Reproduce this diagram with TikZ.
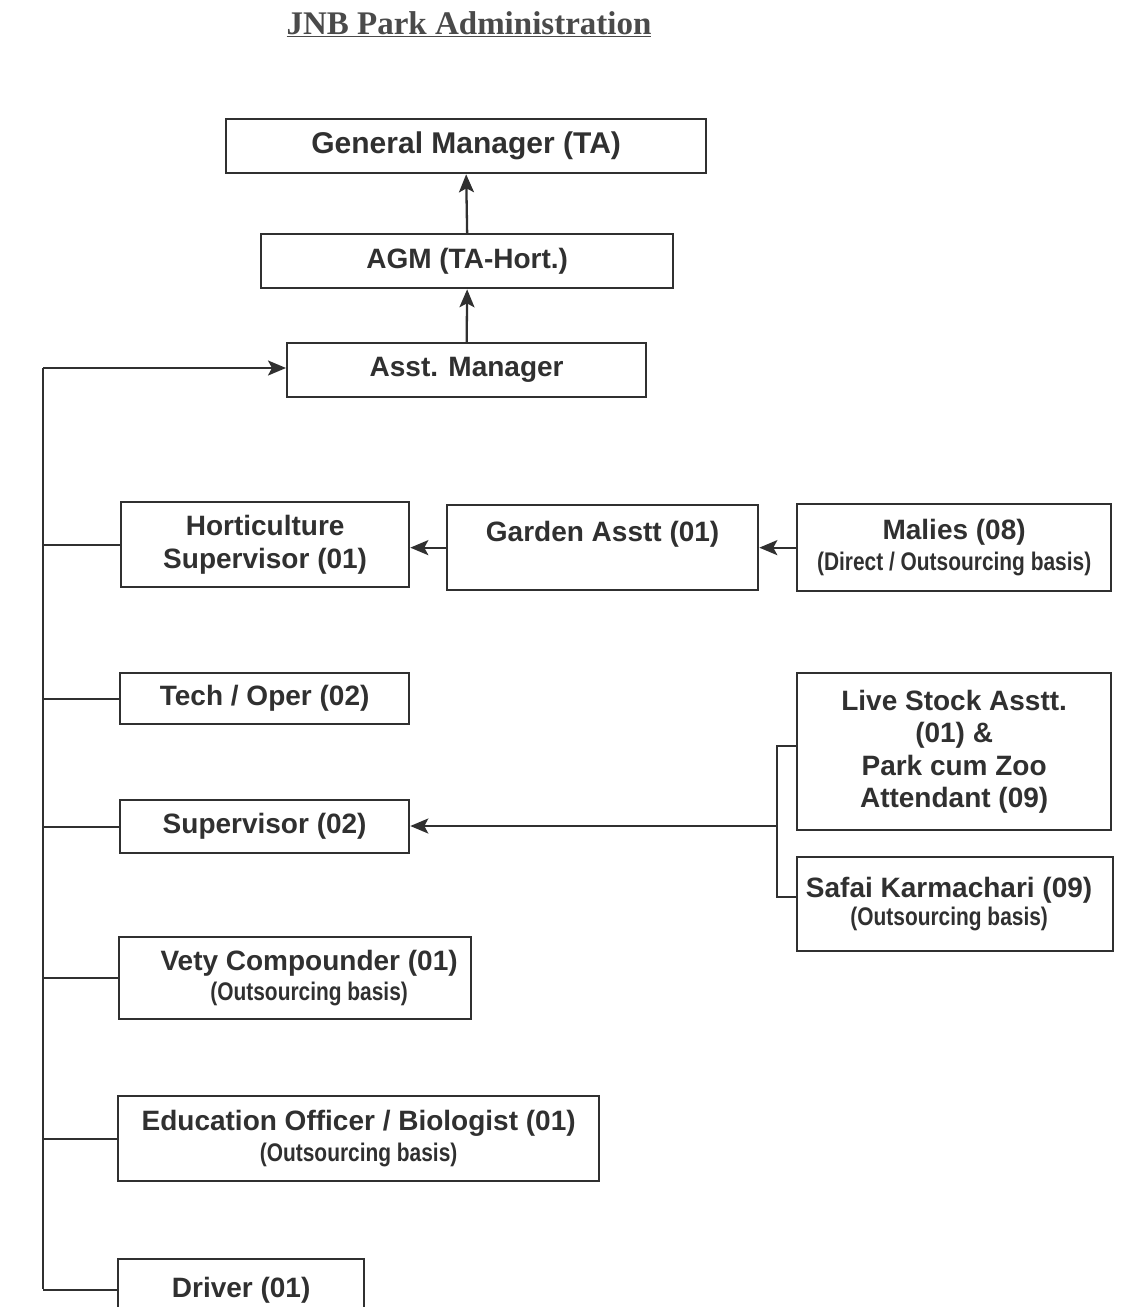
\documentclass[tikz,border=0pt]{standalone}
\usepackage{fontspec}
\setmainfont{Liberation Serif}
\newfontfamily\arialf{Liberation Sans}
\newfontfamily\narrowf[FakeStretch=0.82]{Liberation Sans}
\usetikzlibrary{arrows.meta}
\definecolor{ink}{HTML}{303030}
\definecolor{titleink}{HTML}{4A4A4A}
\begin{document}
\begin{tikzpicture}[x=1pt,y=-1pt,
  box/.style={draw=ink, line width=2.3pt, rectangle, inner sep=0pt, anchor=north west,
    align=center, text=ink, font=\arialf\bfseries\fontsize{28}{32.5}\selectfont},
  conn/.style={draw=ink, line width=2.3pt},
  arr/.style={conn, -{Stealth[length=18pt,width=15pt,inset=4pt]}}]
\useasboundingbox (0,0) rectangle (1129,1307);
\newcommand{\smalltext}[1]{{\narrowf\bfseries\fontsize{25.5}{31}\selectfont #1}}

\node[text=titleink, font=\bfseries\fontsize{33}{38}\selectfont] (title) at (469,24) {\underline{JNB Park Administration}};

\node[box, minimum width=480, minimum height=54, font=\arialf\bfseries\fontsize{30}{34}\selectfont] (gm) at (225,118) {General Manager (TA)};
\node[box, minimum width=412, minimum height=54] (agm) at (260,233) {AGM (TA-Hort.)};
\node[box, minimum width=359, minimum height=54] (asst) at (286,342) {Asst. Manager};

\node[box, minimum width=288, minimum height=85] (hort) at (120,501) {Horticulture\\Supervisor (01)};
\node[box, minimum width=311, minimum height=85] (garden) at (446,504) {Garden Asstt (01)\\\mbox{}};
\node[box, minimum width=314, minimum height=87] (malies) at (796,503) {Malies (08)\\[-2pt]\smalltext{(Direct / Outsourcing basis)}};

\node[box, minimum width=289, minimum height=51] (tech) at (119,672) {Tech / Oper (02)};
\node[box, minimum width=289, minimum height=53] (sup) at (119,799) {Supervisor (02)};

\node[box, minimum width=314, minimum height=157] (live) at (796,672) {Live Stock Asstt.\\(01) \&\\Park cum Zoo\\Attendant (09)};
\node[box, minimum width=316, minimum height=94] (safai) at (796,856) {Safai Karmachari (09)\hspace*{12pt}\\[-4pt]\smalltext{(Outsourcing basis)}\hspace*{12pt}};

\node[box, minimum width=352, minimum height=82] (vety) at (118,936) {\hspace*{28pt}Vety Compounder (01)\\[-2pt]\hspace*{28pt}\smalltext{(Outsourcing basis)}};
\node[box, minimum width=481, minimum height=85] (edu) at (117,1095) {Education Officer / Biologist (01)\\[-2pt]\smalltext{(Outsourcing basis)}};
\node[box, minimum width=246, minimum height=62] (driver) at (117,1258) {Driver (01)};

% upward chain
\draw[arr] (agm.north) -- (gm.south);
\draw[arr] (asst.north) -- (agm.south);

% left trunk
\coordinate (ttop) at (43,368);
\coordinate (tbot) at (43,1289);
\draw[conn] (ttop) -- (tbot);
\draw[arr] (ttop) -- (asst.west |- ttop);
\draw[conn] (hort.west) -- (hort.west -| ttop);
\draw[conn] (tech.west) -- (tech.west -| ttop);
\draw[conn] (sup.west) -- (sup.west -| ttop);
\draw[conn] (vety.west) -- (vety.west -| ttop);
\draw[conn] (edu.west) -- (edu.west -| ttop);
\draw[conn] (driver.west) -- (driver.west -| ttop);

% horticulture chain
\draw[arr] (malies.west) -- (malies.west -| garden.east);
\draw[arr] (garden.west) -- (garden.west -| hort.east);

% bracket to supervisor
\coordinate (bj) at (777,826);
\coordinate (btop) at (777,746);
\coordinate (bbot) at (777,897);
\draw[conn] (live.west |- btop) -- (btop) -- (bbot) -- (safai.west |- bbot);
\draw[arr] (bj) -- (sup.east |- bj);
\end{tikzpicture}
\end{document}
